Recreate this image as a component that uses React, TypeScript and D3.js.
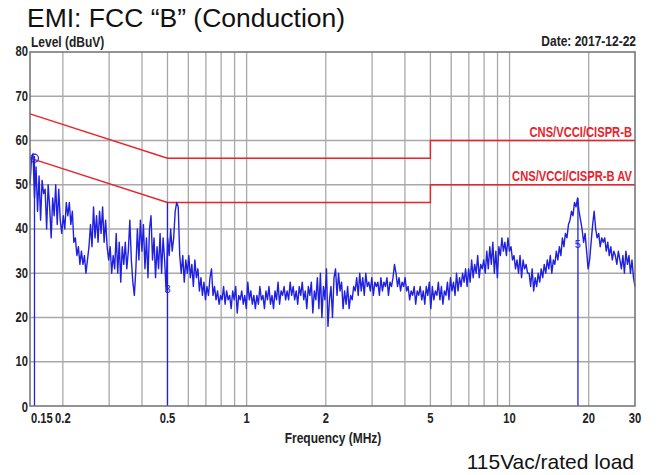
import React from "react";
import * as d3 from "d3";

// ---- Data ----
const sweepStart = 0.15; // MHz
const sweepStop = 30; // MHz

// Measured level (dBuV), sampled evenly on the log-frequency sweep
const levels: number[] = [
  50, 56, 57, 47, 54, 44, 52, 42, 51, 48,
  49, 40, 50, 45, 38, 47, 43, 50, 41, 49,
  42, 39, 43, 40, 46, 43, 46, 41, 44, 37,
  38, 34, 36, 32, 35, 32, 34, 30, 33, 36,
  41, 36, 45, 38, 43, 37, 44, 39, 45, 37,
  42, 36, 33, 36, 30, 34, 31, 39, 30, 37,
  28, 36, 32, 37, 31, 35, 42, 33, 28, 25,
  31, 40, 33, 42, 35, 41, 31, 38, 29, 40,
  43, 33, 38, 29, 36, 31, 39, 30, 38, 33,
  26, 38, 34, 40, 35, 38, 44, 46, 45, 34,
  30, 34, 28, 33, 30, 34, 29, 32, 27, 33,
  29, 31, 26, 29, 25, 28, 24, 27, 25, 29,
  31, 25, 27, 24, 26, 23, 25, 24, 27, 23,
  26, 24, 25, 22, 26, 24, 27, 21, 25, 24,
  26, 23, 25, 22, 28, 24, 26, 23, 25, 22,
  25, 23, 27, 24, 25, 22, 26, 24, 27, 23,
  25, 22, 26, 24, 28, 23, 26, 25, 27, 24,
  26, 24, 28, 25, 27, 24, 26, 23, 27, 25,
  28, 24, 26, 22, 27, 25, 28, 21, 26, 24,
  29, 22, 30, 20, 27, 24, 31, 18, 24, 27,
  20, 29, 31, 25, 30, 26, 28, 22, 26, 23,
  27, 22, 25, 24, 27, 26, 29, 25, 30, 26,
  29, 25, 30, 27, 28, 26, 29, 25, 28, 27,
  28, 25, 29, 26, 28, 27, 29, 25, 28, 27,
  29, 32, 30, 27, 29, 26, 28, 27, 29, 26,
  27, 24, 26, 25, 27, 23, 26, 25, 27, 24,
  26, 23, 27, 25, 28, 22, 27, 24, 26, 25,
  28, 24, 27, 23, 26, 25, 28, 24, 29, 26,
  28, 25, 30, 26, 29, 27, 30, 28, 31, 27,
  31, 28, 33, 29, 32, 30, 34, 29, 32, 31,
  33, 30, 35, 31, 36, 32, 37, 30, 35, 29,
  36, 34, 38, 35, 37, 34, 38, 35, 36, 33,
  34, 31, 33, 30, 34, 29, 33, 31, 32, 30,
  30, 27, 31, 26, 29, 27, 30, 28, 31, 29,
  32, 30, 33, 31, 34, 30, 33, 32, 35, 33,
  36, 34, 38, 36, 39, 38, 41, 42, 44, 43,
  46, 45, 47, 44, 42, 40, 37, 39, 35, 31,
  33, 37, 41, 44, 40, 38, 39, 36, 38, 37,
  38, 35, 37, 34, 36, 33, 35, 34, 32, 35,
  33, 31, 34, 30, 35, 32, 34, 30, 33, 29,
  27,
];

// Limit lines
const limitFreqs = [0.15, 0.5, 5, 5, 30];
const qpLimit = [66, 56, 56, 60, 60];
const avLimit = [56, 46, 46, 50, 50];
const qpLabel = "CNS/VCCI/CISPR-B";
const avLabel = "CNS/VCCI/CISPR-B AV";

// Markers
const markerFreqs = [0.156, 0.5, 18.2];
const markerLevels = [56.5, 46, 47];
const markerLabelLevels = [56, 26.5, 36.5];
const markerLabels = ["", "3", "5"];

// Axes
const gridFreqs = [0.2, 0.3, 0.4, 0.5, 0.6, 0.7, 0.8, 0.9, 1, 2, 3, 4, 5, 6, 7, 8, 9, 10, 20];
const xTickValues = [0.15, 0.2, 0.5, 1, 2, 5, 10, 20, 30];
const xTickLabels = ["0.15", "0.2", "0.5", "1", "2", "5", "10", "20", "30"];
const yTickValues = [0, 10, 20, 30, 40, 50, 60, 70, 80];

const W = 660;
const H = 475;
const L = 30, R = 635, T = 52, B = 406;

const sans = "'Liberation Sans', Arial, sans-serif";
const SQ = 0.8; // horizontal squeeze to imitate a narrow bold face

type NTProps = {
  x: number;
  y: number;
  anchor?: "start" | "middle" | "end";
  fill?: string;
  size?: number;
  baseline?: string;
  children: React.ReactNode;
};
function NarrowText({ x, y, anchor = "start", fill = "#222", size = 14, baseline, children }: NTProps) {
  return (
    <text
      transform={`translate(${x},${y}) scale(${SQ},1)`}
      textAnchor={anchor}
      dominantBaseline={baseline}
      fontFamily={sans}
      fontWeight="bold"
      fontSize={size}
      fill={fill}
    >
      {children}
    </text>
  );
}

export default function App() {
  const x = d3.scaleLog().domain([sweepStart, sweepStop]).range([L, R]);
  const y = d3.scaleLinear().domain([0, 80]).range([B, T]);
  const idx = d3.scaleLinear().domain([0, levels.length - 1]).range([L, R]);

  const trace = d3
    .line<number>()
    .x((_, i) => x(x.invert(idx(i))))
    .y((d) => y(d))(levels) as string;

  const limitLine = (vals: number[]) =>
    d3
      .line<number>()
      .x((_, i) => x(limitFreqs[i]))
      .y((d) => y(d))(vals) as string;

  const red = "#e8232b";
  const blue = "#2020e0";

  return (
    <svg width={W} height={H} style={{ position: "absolute", left: 0, top: 0, background: "#fff" }}>
      <rect x={0} y={0} width={W} height={H} fill="#fff" />
      {/* title */}
      <text x={27} y={27} fontFamily={sans} fontSize={26.5} fill="#111">
        EMI: FCC “B” (Conduction)
      </text>
      <NarrowText x={31} y={47} size={15}>Level (dBuV)</NarrowText>
      <NarrowText x={636} y={46} anchor="end" size={15}>Date: 2017-12-22</NarrowText>

      {/* grid */}
      {gridFreqs.map((f) => (
        <line key={"gx" + f} x1={x(f)} x2={x(f)} y1={T} y2={B} stroke="#a8a8a8" strokeWidth={1.3} />
      ))}
      {yTickValues.slice(1, -1).map((v) => (
        <line key={"gy" + v} x1={L} x2={R} y1={y(v)} y2={y(v)} stroke="#a8a8a8" strokeWidth={1.3} />
      ))}

      {/* limits */}
      <path d={limitLine(qpLimit)} fill="none" stroke={red} strokeWidth={1.4} />
      <path d={limitLine(avLimit)} fill="none" stroke={red} strokeWidth={1.4} />
      <NarrowText x={632} y={y(60) - 4} anchor="end" fill={red}>{qpLabel}</NarrowText>
      <NarrowText x={632} y={y(50) - 4} anchor="end" fill={red}>{avLabel}</NarrowText>

      {/* trace */}
      <path d={trace} fill="none" stroke={blue} strokeWidth={1.4} strokeLinejoin="round" />

      {/* markers */}
      {markerFreqs.map((f, i) => (
        <line key={"m" + i} x1={x(f)} x2={x(f)} y1={y(markerLevels[i])} y2={B} stroke={blue} strokeWidth={1.3} />
      ))}
      <circle cx={x(markerFreqs[0])} cy={y(markerLabelLevels[0])} r={4} fill="none" stroke={blue} strokeWidth={1.2} />
      {markerLabels.map((t, i) =>
        t ? (
          <text key={"ml" + i} x={x(markerFreqs[i])} y={y(markerLabelLevels[i])} textAnchor="middle" dominantBaseline="central" fontFamily={sans} fontSize={11} fill={blue}>
            {t}
          </text>
        ) : null
      )}

      {/* frame */}
      <rect x={L} y={T} width={R - L} height={B - T} fill="none" stroke="#707070" strokeWidth={1.5} />

      {/* y ticks */}
      {yTickValues.map((v) => (
        <NarrowText key={"yt" + v} x={28} y={y(v) + (v === 0 ? 2 : 0)} anchor="end" baseline="central">
          {v}
        </NarrowText>
      ))}
      {/* x ticks */}
      {xTickValues.map((f, i) => (
        <NarrowText key={"xt" + f} x={i === 0 ? x(f) + 1 : x(f)} y={423} anchor={i === 0 ? "start" : "middle"}>
          {xTickLabels[i]}
        </NarrowText>
      ))}
      <NarrowText x={333} y={443} anchor="middle" size={15}>Frequency (MHz)</NarrowText>
      <text x={634} y={469} textAnchor="end" fontFamily={sans} fontSize={21} fill="#111">
        115Vac/rated load
      </text>
    </svg>
  );
}
